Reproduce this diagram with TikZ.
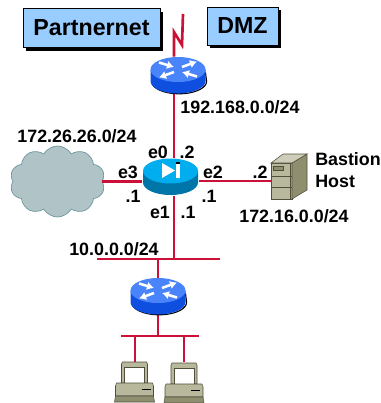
\documentclass[tikz,border=0pt]{standalone}
\usepackage{fontspec}
\setmainfont{Liberation Sans}
\usetikzlibrary{shapes.symbols,shadows,arrows.meta}

\definecolor{wirered}{HTML}{CC1038}
\definecolor{boxblue}{HTML}{99CCFF}
\definecolor{routertop}{HTML}{4A84FA}
\definecolor{routerside}{HTML}{0F4FE0}
\definecolor{hubtop}{HTML}{00AEEF}
\definecolor{hubside}{HTML}{0075A8}
\definecolor{cloudfill}{HTML}{B0C4C8}
\definecolor{cloudline}{HTML}{6F979C}
\definecolor{boxlight}{HTML}{B8B89C}
\definecolor{boxdark}{HTML}{8F8F70}
\definecolor{boxline}{HTML}{4F4F3C}

\tikzset{
  wire/.style={line width=1.9pt, draw=wirered},
  lab/.style={rectangle, inner sep=0pt, font=\fontsize{12.7}{14}\selectfont\bfseries},
  title/.style={rectangle, draw=black, line width=0.6pt, fill=boxblue, inner sep=0pt,
    font=\fontsize{16.5}{18}\selectfont\bfseries,
    drop shadow={shadow xshift=2.4pt, shadow yshift=-2.4pt, fill=black, opacity=1}},
  spot/.style={rectangle, inner sep=0pt},
  arrowline/.style={white, line width=1.8pt, -{Latex[length=5pt,width=6pt]}},
  pics/drum/.style n args={2}{code={
    \fill [#2] (-27.5,0) -- (-27.5,11.5) arc [start angle=180, end angle=0, x radius=27.5, y radius=12.5] -- (27.5,0) -- cycle;
    \fill [#1] (0,0) ellipse [x radius=27.5, y radius=12.5];
  }},
  pics/router/.style={code={
    \draw [black, line width=0.8pt] (-26,14) arc [start angle=170, end angle=0, x radius=27.5, y radius=12.5] -- (27.5,3);
    \pic {drum={routertop}{routerside}};
    \draw [arrowline] (-19,-7) -- (-4,-2.5);
    \draw [arrowline] (4,-2.5) -- (19,-8);
    \draw [arrowline] (-4,2.5) -- (-19,8);
    \draw [arrowline] (19,7) -- (4,2.5);
  }},
  pics/pc/.style={code={
    \filldraw [fill=boxlight, draw=boxline, line width=0.4pt] (-12,0) -- (12,0) -- (13,2) -- (13,21) -- (-13,21) -- (-13,2) -- cycle;
    \filldraw [fill=white, draw=boxline, line width=0.4pt] (-10,5) rectangle (10,21);
    \filldraw [fill=boxlight, draw=boxline, line width=0.4pt] (-18,21) -- (18,21) -- (19,24) -- (19,34) -- (-19,34) -- (-19,24) -- cycle;
    \filldraw [fill=boxdark, draw=boxline, line width=0.4pt] (-19,34) -- (19,34) -- (20,40) -- (-20,40) -- cycle;
    \draw [black, line width=0.7pt] (7,27) -- (16,27);
  }}
}

\begin{document}
\begin{tikzpicture}[x=0.025cm, y=-0.025cm]

\useasboundingbox (0,0) rectangle (381,403);

\node [title, minimum width=3.425cm, minimum height=0.975cm] (Partner) at (91.5,28) {Partnernet};
\node [title, minimum width=1.775cm, minimum height=0.95cm] (DMZ) at (242.5,26) {DMZ};

\node [cloud, cloud puffs=10, cloud puff arc=120, aspect=1.35, draw=cloudline, fill=cloudfill, line width=0.5pt,
  inner sep=0pt, minimum width=2.375cm, minimum height=1.775cm] (Cloud) at (57.5,181.5) {};

\node [spot, minimum width=1.375cm, minimum height=0.9cm] (R1) at (178,75) {};
\node [spot, minimum width=1.425cm, minimum height=0.925cm] (Hub) at (170.5,177) {};
\node [spot, minimum width=1.4cm, minimum height=0.875cm] (R2) at (158,295.5) {};
\node [spot, minimum width=0.525cm, minimum height=0.9cm] (Srv) at (281.5,181) {};
\node [spot, minimum width=1cm, minimum height=1cm] (PC1) at (135,382) {};
\node [spot, minimum width=1cm, minimum height=1cm] (PC2) at (184,382) {};

\coordinate (Bolt) at (183,14);
\coordinate (Mast) at (174,259);
\coordinate (BusAl) at (97,259);
\coordinate (BusAr) at (220,259);
\coordinate (BusBl) at (121,336);
\coordinate (BusBr) at (199,336);

% wires
\draw [wire] (R1.north -| Mast) -- (174,32) -- (182,45) -- (Bolt);
\draw [wire] (R1.south -| Mast) to (Hub.north -| Mast);
\draw [wire] (Hub.south -| Mast) to (Mast);
\draw [wire] (Cloud.east) to (Cloud.east -| Hub.west);
\draw [wire] (Srv.west -| Hub.east) to (Srv.west);
\draw [wire] (BusAl) to (BusAr);
\draw [wire] (R2.north) to (R2.north |- BusAl);
\draw [wire] (R2.south) to (R2.south |- BusBl);
\draw [wire] (BusBl) to (BusBr);
\draw [wire] (PC1.north) to (PC1.north |- BusBl);
\draw [wire] (PC2.north) to (PC2.north |- BusBl);

% devices
\pic at (178,69.5) {router};
\pic at (158,290.5) {router};
\pic at (170.5,171) {drum={hubtop}{hubside}};
\fill [white] (162,163) -- (175,170.5) -- (162,178) -- cycle;
\fill [white] (176,162) rectangle (180,178);
\fill [black] (176,162) rectangle (180,163.5);

\filldraw [fill=boxlight, draw=boxline, line width=0.4pt] (271,163) -- (292,163) -- (292,199) -- (271,199) -- cycle;
\filldraw [fill=boxdark, draw=boxline, line width=0.4pt] (292,163) -- (307,154) -- (307,190) -- (292,199) -- cycle;
\filldraw [fill=boxlight!70!white, draw=boxline, line width=0.4pt] (271,163) -- (283,154) -- (307,154) -- (292,163) -- cycle;
\draw [boxline, line width=0.4pt] (271,176) -- (292,176) (271,187) -- (292,187) (290,163) -- (290,199);
\filldraw [fill=boxdark, draw=boxline, line width=0.4pt] (273,166) rectangle (283,170);

\pic at (134.5,362) {pc};
\pic at (184,363) {pc};

% labels
\node [lab] (NetTop) at (240,107) {192.168.0.0/24};
\node [lab] (NetCloud) at (77,136) {172.26.26.0/24};
\node [lab] (NetSrv) at (294,216) {172.16.0.0/24};
\node [lab] (NetLan) at (114,249) {10.0.0.0/24};
\node [lab] (E0) at (158,152) {e0};
\node [lab] (E0a) at (187,152) {.2};
\node [lab] (E3) at (128,172) {e3};
\node [lab] (E3a) at (133,196) {.1};
\node [lab] (E2) at (213,172) {e2};
\node [lab] (E2a) at (209,196) {.1};
\node [lab] (E1) at (160,212) {e1};
\node [lab] (E1a) at (188,212) {.1};
\node [lab] (SrvA) at (260,172) {.2};
\node [lab, anchor=west] (Bastion) at (315,159) {Bastion};
\node [lab, anchor=west] (Host) at (315,181) {Host};

\end{tikzpicture}
\end{document}
